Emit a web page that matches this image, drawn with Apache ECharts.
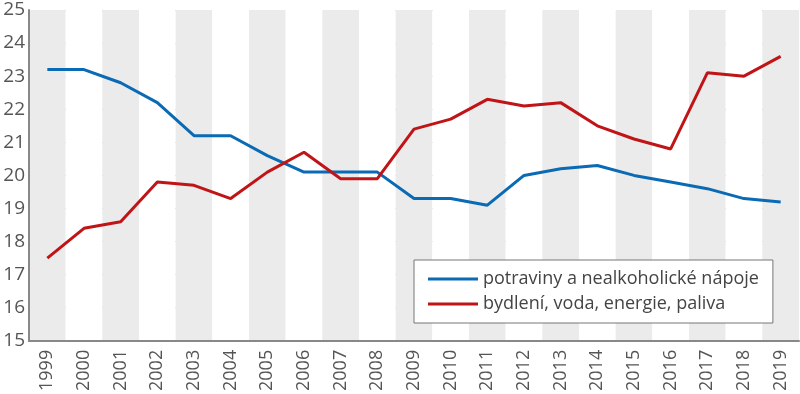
<!DOCTYPE html>
<html><head><meta charset="utf-8">
<script src="https://cdn.jsdelivr.net/npm/echarts@6/dist/echarts.min.js"></script>
<style>html,body{margin:0;padding:0;background:#fff}#c{width:800px;height:394px}</style>
</head><body><div id="c"></div>
<script>
const years = ['1999','2000','2001','2002','2003','2004','2005','2006','2007','2008','2009','2010','2011','2012','2013','2014','2015','2016','2017','2018','2019'];
const potraviny = [23.2,23.2,22.8,22.2,21.2,21.2,20.6,20.1,20.1,20.1,19.3,19.3,19.1,20.0,20.2,20.3,20.0,19.8,19.6,19.3,19.2];
const bydleni = [17.5,18.4,18.6,19.8,19.7,19.3,20.1,20.7,19.9,19.9,21.4,21.7,22.3,22.1,22.2,21.5,21.1,20.8,23.1,23.0,23.6];
const seriesNames = ['potraviny a nealkoholické nápoje','bydlení, voda, energie, paliva'];
const yTicks = [15,16,17,18,19,20,21,22,23,24,25];

const chart = echarts.init(document.getElementById('c'));
const font = 'Open Sans';
chart.setOption({
  animation:false,
  grid:{left:29,right:1,top:10,bottom:51,containLabel:false},
  legend:{
    orient:'vertical', left:414, top:260, width:372,
    backgroundColor:'#fff', borderColor:'#777', borderWidth:1,
    padding:[9,14,9,14], itemGap:5, itemWidth:50, itemHeight:3,
    icon:'rect',
    textStyle:{fontFamily:font,fontSize:18,color:'#444',lineHeight:20},
    data:seriesNames
  },
  xAxis:{
    type:'category', data:years, boundaryGap:true,
    axisLine:{lineStyle:{color:'#888',width:2}},
    axisTick:{show:false},
    axisLabel:{rotate:90,fontFamily:font,fontSize:18,color:'#555',margin:9,interval:0},
    splitArea:{show:true,interval:0,areaStyle:{color:['#ebebeb','#ffffff']}},
    splitLine:{show:false}
  },
  yAxis:{
    type:'value', min:yTicks[0], max:yTicks[yTicks.length-1], interval:1,
    axisLine:{show:true,lineStyle:{color:'#888',width:2}},
    axisTick:{show:false},
    axisLabel:{fontFamily:font,fontSize:19,color:'#555',margin:4},
    splitLine:{lineStyle:{color:'#aaa',type:[3,3],width:1}}
  },
  series:[
    {name:seriesNames[0],type:'line',data:potraviny,symbol:'none',lineStyle:{color:'#0a6ab4',width:3},itemStyle:{color:'#0a6ab4'}},
    {name:seriesNames[1],type:'line',data:bydleni,symbol:'none',lineStyle:{color:'#c01417',width:3},itemStyle:{color:'#c01417'}}
  ]
});
</script></body></html>
